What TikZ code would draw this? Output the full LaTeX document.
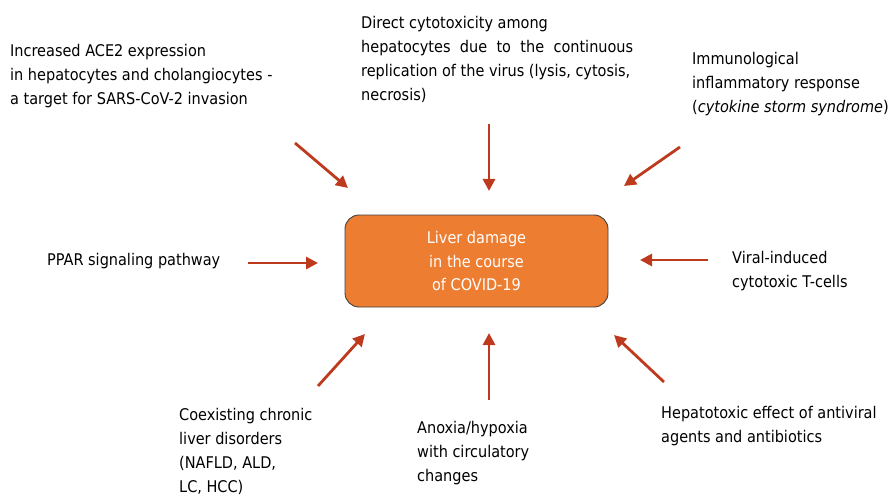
\documentclass[tikz,border=0pt]{standalone}
\usepackage{fontspec}
\setmainfont{DejaVu Sans Condensed}
\usetikzlibrary{arrows.meta}
\definecolor{damage}{RGB}{237,125,49}
\definecolor{cause}{RGB}{190,58,30}
\begin{document}
\begin{tikzpicture}[x=1pt,y=-1pt,
  txt/.style={anchor=base west,inner sep=0pt,align=left,font=\fontsize{16.1}{24}\selectfont},
  hit/.style={draw=cause,line width=2.8pt,-{Triangle[length=12pt,width=12pt]}},
  liver/.style={draw=black!75,line width=0.9pt,fill=damage,rounded corners=14pt,minimum width=263pt,minimum height=92pt,
    text=white,align=center,font=\fontsize{16.1}{23.5}\selectfont}]
\useasboundingbox (0,0) rectangle (888,497);
            % Center
\node[liver] (L) at (476.5,261) {Liver damage\\in the course\\of COVID-19};
            % Causes (anchored at the last line)
\node[txt] (ace) at (10,105) {Increased ACE2 expression\\in hepatocytes and cholangiocytes -\\a target for SARS-CoV-2 invasion};
\node[txt] (cyt) at (361,101) {Direct cytotoxicity among\\\makebox[272pt][s]{hepatocytes due to the continuous}\\replication of the virus (lysis, cytosis,\\necrosis)};
\node[txt] (imm) at (692,113) {Immunological\\inflammatory response\\(\textit{cytokine storm syndrome})};
\node[txt] (ppar) at (47,265) {PPAR signaling pathway};
\node[txt] (vir) at (732,287) {Viral-induced\\cytotoxic T-cells};
\node[txt] (chr) at (179,492) {Coexisting chronic\\liver disorders\\(NAFLD, ALD,\\LC, HCC)};
\node[txt] (anox) at (417,481) {Anoxia/hypoxia\\with circulatory\\changes};
\node[txt] (hep) at (661,442) {Hepatotoxic effect of antiviral\\agents and antibiotics};
            % Arrow ends
\coordinate (a1) at (295,143); \coordinate (b1) at (348,188);
\coordinate (a2) at (489,124); \coordinate (b2) at (489,191);
\coordinate (a3) at (680,147); \coordinate (b3) at (624,186);
\coordinate (a4) at (248,263); \coordinate (b4) at (318,263);
\coordinate (a5) at (708,260); \coordinate (b5) at (640,260);
\coordinate (a6) at (318,386); \coordinate (b6) at (365,334);
\coordinate (a7) at (489,400); \coordinate (b7) at (489,333);
\coordinate (a8) at (664,382); \coordinate (b8) at (614,335);
            % Arrows
\foreach \i in {1,...,8}
  \draw[hit] (a\i) -- (b\i);
\end{tikzpicture}
\end{document}
